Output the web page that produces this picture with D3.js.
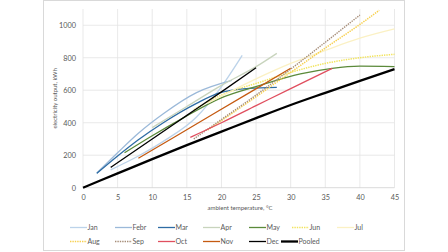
<!DOCTYPE html>
<html>
<head>
<meta charset="utf-8">
<script src="https://cdn.jsdelivr.net/npm/d3@7"></script>
<style>
  body { margin: 0; background: #fff; }
  text { font-family: Lato, "Liberation Sans", sans-serif; fill: #595959; }
</style>
</head>
<body>
<script>
//==============================================================================
// DATA  ([ambient temperature °C, output kWh])
//==============================================================================

const jan    = [[4, 110], [8, 195], [11.6, 285], [16.4, 435], [19.8, 610], [23, 815]];
const febr   = [[2, 90], [5, 215], [8, 335], [11.6, 455], [16.4, 585], [21.5, 660]];
const mar    = [[2, 88], [5, 195], [8, 295], [11.6, 400], [16.4, 519], [19.8, 585], [24, 612], [28, 618]];
const apr    = [[10, 370], [15, 500], [20, 630], [25, 745], [28, 827]];
const may    = [[6, 215], [10, 320], [14.5, 430], [19.8, 550], [25.6, 630], [31.4, 700], [36, 735], [40, 748], [45, 745]];
const jun    = [[16, 480], [20, 570], [25.6, 650], [30, 710], [35, 765], [40, 800], [45, 821]];
const jul    = [[18, 520], [25, 670], [30, 765], [35, 845], [40, 920], [45, 977]];
const aug    = [[18, 355], [25, 560], [30, 710], [35, 860], [40, 1005], [42.8, 1092]];
const sep    = [[16, 300], [20, 420], [25, 570], [30, 730], [35, 895], [40, 1063]];
const oct    = [[15.5, 310], [20, 400], [25, 505], [30, 610], [36, 735]];
const nov    = [[8, 181], [19, 458], [30, 735]];
const dec    = [[4, 125], [10, 300], [15, 445], [20, 590], [25, 738]];
const pooled = [[0, 0], [5, 88], [10, 176], [15, 262], [20, 345], [25, 428], [30, 509], [35, 584], [40, 658], [45, 730]];

const seriesNames = ['Jan', 'Febr', 'Mar', 'Apr', 'May', 'Jun', 'Jul', 'Aug', 'Sep', 'Oct', 'Nov', 'Dec', 'Pooled'];
const seriesData  = [jan, febr, mar, apr, may, jun, jul, aug, sep, oct, nov, dec, pooled];

const xTicks = [0, 5, 10, 15, 20, 25, 30, 35, 40, 45];
const yTicks = [0, 200, 400, 600, 800, 1000];

//==============================================================================
// STYLE
//==============================================================================

const colors = ['#bcd3ea', '#9bb9d9', '#2e6ca4', '#c8d4bd', '#5b8a3a', '#f2e45e',
                '#fbf1c4', '#f7d04f', '#a68d78', '#e04f5f', '#c55a11', '#000000', '#000000'];
const dashes = [null, null, null, null, null, '1.4,1', null, '1.4,1', '1.4,1', null, null, null, null];
const widths = [1.3, 1.3, 1.3, 1.3, 1.3, 1.5, 1.3, 1.5, 1.4, 1.3, 1.3, 1.3, 2.3];

const width = 448, height = 252;
const plot = { left: 83, right: 394.5, top: 9, bottom: 187.7 };

const x = d3.scaleLinear().domain([0, 45]).range([plot.left, plot.right]);
const y = d3.scaleLinear().domain([0, 1100]).range([plot.bottom, plot.top]);

const svg = d3.select('body').append('svg')
  .attr('width', width)
  .attr('height', height);

// chart area border
svg.append('rect')
  .attr('x', 43.5).attr('y', 0.5)
  .attr('width', 361).attr('height', 250)
  .attr('fill', '#fff')
  .attr('stroke', '#d9d9d9')
  .attr('stroke-width', 1);

//==============================================================================
// GRID + AXES
//==============================================================================

svg.append('g')
  .selectAll('line')
  .data(xTicks)
  .enter()
  .append('line')
  .attr('x1', d => x(d)).attr('x2', d => x(d))
  .attr('y1', plot.top).attr('y2', plot.bottom)
  .attr('stroke', '#e3e3e3')
  .attr('stroke-width', 0.8);

svg.append('g')
  .selectAll('line')
  .data(yTicks)
  .enter()
  .append('line')
  .attr('x1', plot.left).attr('x2', plot.right)
  .attr('y1', d => y(d)).attr('y2', d => y(d))
  .attr('stroke', d => d === 0 ? '#d0d0d0' : '#e3e3e3')
  .attr('stroke-width', 0.8);

// x axis labels
const xAxis = svg.append('g')
  .attr('transform', `translate(0,${plot.bottom + 3})`)
  .call(d3.axisBottom(x).tickValues(xTicks).tickSize(0).tickPadding(4));
xAxis.select('.domain').remove();
xAxis.selectAll('text')
  .attr('font-size', 7.3)
  .attr('fill', '#595959')
  .style('font-family', 'Lato, sans-serif');

// y axis labels
const yAxis = svg.append('g')
  .attr('transform', `translate(${plot.left - 4},0)`)
  .call(d3.axisLeft(y).tickValues(yTicks).tickFormat(d3.format('d')).tickSize(0).tickPadding(3));
yAxis.select('.domain').remove();
yAxis.selectAll('text')
  .attr('font-size', 7.3)
  .attr('fill', '#595959')
  .style('font-family', 'Lato, sans-serif');

// axis titles
svg.append('text')
  .attr('x', 240).attr('y', 210)
  .attr('text-anchor', 'middle')
  .attr('font-size', 6)
  .text('ambient temperature, °C');

svg.append('text')
  .attr('transform', `translate(57,${(plot.top + plot.bottom) / 2}) rotate(-90)`)
  .attr('text-anchor', 'middle')
  .attr('font-size', 6)
  .text('electricity output, kWh');

//==============================================================================
// LINES
//==============================================================================

const line = d3.line()
  .x(d => x(d[0]))
  .y(d => y(d[1]))
  .curve(d3.curveMonotoneX);

svg.append('g')
  .selectAll('path')
  .data(seriesData)
  .enter()
  .append('path')
  .attr('d', line)
  .attr('fill', 'none')
  .attr('stroke', (d, i) => colors[i])
  .attr('stroke-width', (d, i) => widths[i])
  .attr('stroke-dasharray', (d, i) => dashes[i])
  .attr('stroke-linecap', 'butt');

//==============================================================================
// LEGEND
//==============================================================================

const legendX = [70, 115, 158, 203, 249, 292, 337, 70, 115, 158, 203, 249, 281];
const legendY = [227.5, 227.5, 227.5, 227.5, 227.5, 227.5, 227.5, 241.5, 241.5, 241.5, 241.5, 241.5, 241.5];

const items = svg.append('g')
  .selectAll('g')
  .data(seriesNames)
  .enter()
  .append('g')
  .attr('transform', (d, i) => `translate(${legendX[i]},${legendY[i]})`);

items.append('line')
  .attr('x1', 0).attr('x2', 17)
  .attr('stroke', (d, i) => colors[i])
  .attr('stroke-width', (d, i) => widths[i])
  .attr('stroke-dasharray', (d, i) => dashes[i]);

items.append('text')
  .attr('x', 17.5).attr('y', 2.5)
  .attr('font-size', 7)
  .text(d => d);
</script>
</body>
</html>
